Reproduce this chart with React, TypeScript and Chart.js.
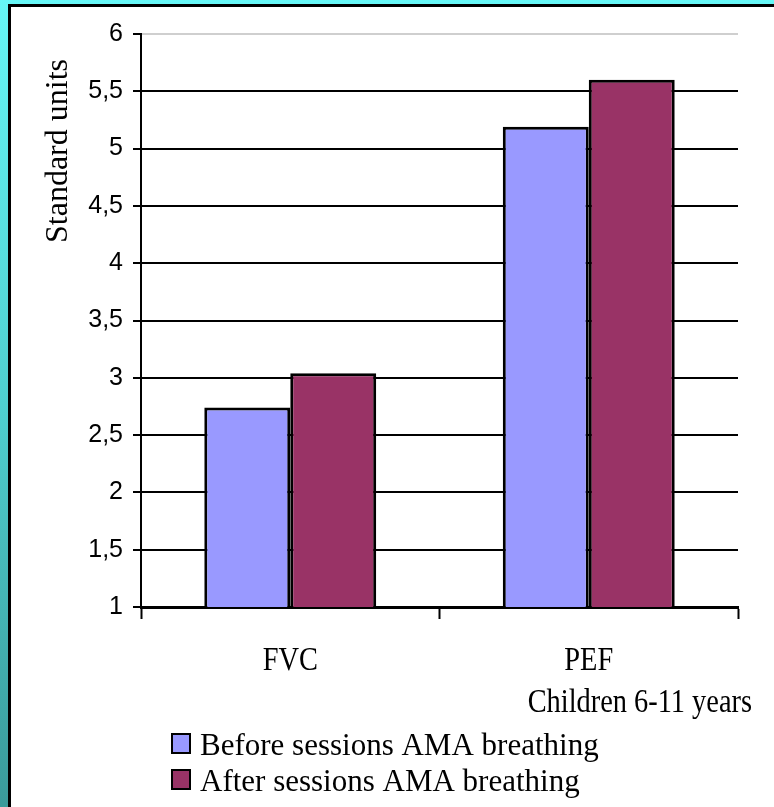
import React, { useEffect, useRef } from "react";
import { Chart, registerables } from "chart.js";

Chart.register(...registerables);

const categories = ["FVC", "PEF"];
const beforeValues = [2.74, 5.19];
const afterValues = [3.04, 5.6];
const seriesLabels = ["Before sessions AMA breathing", "After sessions AMA breathing"];
const seriesColors = ["#9999ff", "#993366"];
const yAxisTitle = "Standard units";
const subTitle = "Children 6-11 years";
const yMin = 1;
const yMax = 6;
const yStep = 0.5;

const SERIF = "'Liberation Serif', 'Times New Roman', serif";
const SANS = "'Liberation Sans', Arial, sans-serif";

const textPlugin = {
  id: "customText",
  afterDraw(chart: any) {
    const ctx = chart.ctx as CanvasRenderingContext2D;
    const xScale = chart.scales.x;
    ctx.save();
    ctx.fillStyle = "#000";

    // y axis title
    ctx.save();
    ctx.font = `32px ${SERIF}`;
    ctx.translate(67, 151);
    ctx.rotate(-Math.PI / 2);
    ctx.textAlign = "center";
    ctx.textBaseline = "alphabetic";
    ctx.fillText(yAxisTitle, 0, 0);
    ctx.restore();

    // x category labels (slightly condensed)
    const sx = 0.86;
    ctx.font = `33px ${SERIF}`;
    ctx.textBaseline = "alphabetic";
    categories.forEach((c, i) => {
      const px = xScale.getPixelForValue(i);
      ctx.save();
      ctx.translate(px, 670);
      ctx.scale(sx, 1);
      ctx.textAlign = "center";
      ctx.fillText(c, 0, 0);
      ctx.restore();
    });

    // sub title
    ctx.save();
    ctx.translate(752, 712);
    ctx.scale(sx, 1);
    ctx.textAlign = "right";
    ctx.fillText(subTitle, 0, 0);
    ctx.restore();

    // legend
    ctx.font = `31px ${SERIF}`;
    ctx.textAlign = "left";
    chart.data.datasets.forEach((ds: any, i: number) => {
      const top = 734 + i * 36;
      ctx.fillStyle = ds.backgroundColor;
      ctx.fillRect(172, top, 18, 19);
      ctx.strokeStyle = "#000";
      ctx.lineWidth = 2;
      ctx.strokeRect(172, top, 18, 19);
      ctx.fillStyle = "#000";
      ctx.fillText(ds.label, 200, top + 21);
    });
    ctx.restore();
  },
};

export default function App() {
  const ref = useRef<HTMLCanvasElement | null>(null);

  useEffect(() => {
    if (!ref.current) return;
    const chart = new Chart(ref.current, {
      type: "bar",
      data: {
        labels: categories,
        datasets: [
          {
            label: seriesLabels[0],
            data: beforeValues,
            backgroundColor: seriesColors[0],
            borderColor: "#000",
            borderWidth: 3,
            categoryPercentage: 0.576,
            barPercentage: 1,
          },
          {
            label: seriesLabels[1],
            data: afterValues,
            backgroundColor: seriesColors[1],
            borderColor: "#000",
            borderWidth: 3,
            categoryPercentage: 0.576,
            barPercentage: 1,
          },
        ],
      },
      options: {
        responsive: false,
        animation: false,
        devicePixelRatio: 1,
        layout: { padding: { top: 34, right: 36, left: 0, bottom: 0 } },
        plugins: {
          legend: { display: false },
          tooltip: { enabled: false },
          title: { display: false },
        },
        scales: {
          x: {
            afterFit: (s: any) => {
              s.height = 200;
            },
            grid: {
              offset: true,
              drawOnChartArea: false,
              drawTicks: true,
              tickLength: 12,
              tickColor: "#000",
              tickWidth: 2,
            },
            border: { color: "#000", width: 3 },
            ticks: { display: false },
          },
          y: {
            min: yMin,
            max: yMax,
            afterFit: (s: any) => {
              s.width = 141;
            },
            ticks: {
              stepSize: yStep,
              padding: 10,
              color: "#000",
              font: { family: SANS, size: 25 },
              callback: (v: any) => String(v).replace(".", ","),
            },
            grid: {
              color: (c: any) => (c.tick && c.tick.value === yMax ? "#cfcfcf" : "#000"),
              lineWidth: 2,
              tickLength: 8,
              tickColor: "#000",
              tickWidth: 2,
            },
            border: { color: "#000", width: 2 },
          },
        },
      },
      plugins: [textPlugin],
    });
    return () => chart.destroy();
  }, []);

  return (
    <div
      style={{
        position: "absolute",
        left: 0,
        top: 0,
        width: 774,
        height: 807,
        overflow: "hidden",
        background: "linear-gradient(to bottom, #66f6f6 0%, #4fcfcf 50%, #3a9a9a 100%)",
      }}
    >
      <div
        style={{
          position: "absolute",
          left: 8,
          top: 4,
          right: 0,
          bottom: 0,
          background: "#fff",
          borderTop: "3px solid #000",
          borderLeft: "3px solid #000",
        }}
      />
      <canvas
        ref={ref}
        width={774}
        height={807}
        style={{ position: "absolute", left: 0, top: 0, width: 774, height: 807 }}
      />
    </div>
  );
}
